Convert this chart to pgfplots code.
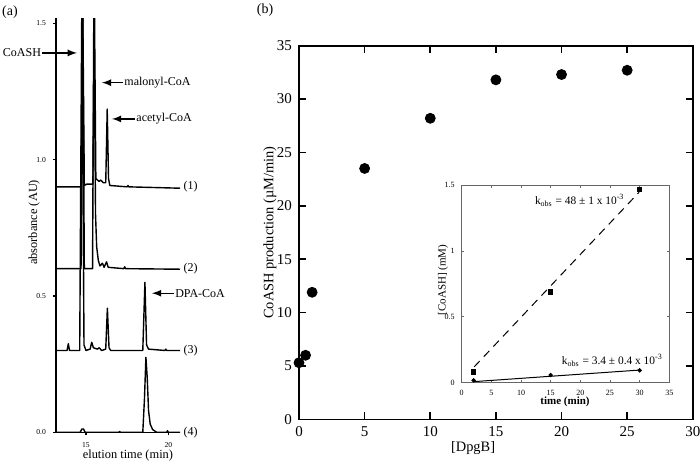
\documentclass[border=0pt]{standalone}
\usepackage{pgfplots}
\pgfplotsset{compat=1.18}
\usepackage{fontspec}
\setmainfont{Liberation Serif}
\newcommand\fs[1]{\fontsize{#1}{#1}\selectfont}
\pgfplotsset{trace/.style={black, line width=0.7pt, line join=round, mark=none}}
\begin{document}
\begin{tikzpicture}
\path[use as bounding box] (0,0) rectangle (350pt,233.5pt);
\node[font=\fs{7}] at (5pt,227.5pt) {(a)};
\node[font=\fs{7}] at (132.5pt,228.5pt) {(b)};

% (a) chromatograms, offset by 0.3 AU
\begin{axis}[
  at={(28pt,17.35pt)}, anchor=south west,
  scale only axis, width=62pt, height=207pt,
  xmin=13.18, xmax=20.71, ymin=0, ymax=1.518,
  axis lines*=left, axis line style={line width=0.7pt},
  tick align=outside, major tick length=1.5pt,
  every tick/.style={black, line width=0.6pt},
  xtick={15,20}, ytick={0,0.5,1,1.5},
  yticklabel style={/pgf/number format/fixed, /pgf/number format/fixed zerofill, /pgf/number format/precision=1},
  /pgf/number format/assume math mode=true,
  tick label style={font=\fs{3.8}},
  clip mode=individual,
  xlabel={elution time (min)}, ylabel={absorbance (AU)},
  label style={font=\fs{6.2}},
  xlabel style={at={(axis description cs:0.58,-0.057)}, anchor=center},
  ylabel style={at={(axis description cs:-0.177,0.507)}, anchor=center},
]
  % (1)
  \addplot[trace] coordinates {
    (13.18,0.90) (14.72,0.90) (14.80,1.60) (14.90,0.905) (15.05,0.91) (15.42,0.91)
    (15.51,1.60) (15.60,0.93) (15.70,0.925) (15.80,0.92) (15.90,0.925) (16.05,0.915)
    (16.20,0.915) (16.29,1.185) (16.37,0.93) (16.45,0.905) (17.50,0.90) (17.55,0.905)
    (17.60,0.90) (20.71,0.895)
  };
  % (2)
  \addplot[trace] coordinates {
    (13.18,0.60) (14.70,0.60) (14.80,1.60) (14.90,0.60) (15.40,0.60) (15.48,1.60)
    (15.58,0.80) (15.65,0.68) (15.75,0.63) (15.85,0.61) (16.00,0.62) (16.10,0.605)
    (16.25,0.625) (16.35,0.605) (17.30,0.60) (17.35,0.607) (17.40,0.60) (20.71,0.598)
  };
  % (3)
  \addplot[trace] coordinates {
    (13.18,0.30) (13.85,0.30) (13.93,0.325) (14.00,0.30) (14.62,0.30) (14.75,1.60)
    (14.88,0.32) (15.00,0.30) (15.25,0.305) (15.35,0.33) (15.45,0.31) (15.70,0.305)
    (15.80,0.31) (15.95,0.30) (16.20,0.305) (16.30,0.455) (16.40,0.31) (16.50,0.30)
    (18.45,0.30) (18.58,0.55) (18.68,0.32) (18.80,0.305) (19.80,0.30) (19.85,0.305)
    (19.90,0.30) (20.71,0.30)
  };
  % (4)
  \addplot[trace] coordinates {
    (13.18,0.0) (14.65,0.0) (14.75,0.012) (14.85,0.012) (14.95,0.0) (17.00,0.0)
    (17.05,0.003) (17.10,0.0) (18.45,0.0) (18.55,0.12) (18.64,0.275) (18.72,0.20)
    (18.80,0.08) (18.90,0.03) (19.05,0.01) (19.30,0.0) (19.90,0.0) (19.95,0.006)
    (20.00,0.0) (20.71,0.0)
  };
  \draw[-latex, line width=0.6pt] (axis cs:12.35,1.391) -- (axis cs:14.45,1.391);
  \node[anchor=east, font=\fs{6}, inner sep=0.5pt] at (axis cs:12.35,1.391) {CoASH};
  \draw[-latex, line width=0.6pt] (axis cs:17.25,1.282) -- (axis cs:15.97,1.282);
  \node[anchor=west, font=\fs{6}, inner sep=0.5pt] at (axis cs:17.25,1.282) {malonyl-CoA};
  \draw[-latex, line width=0.6pt] (axis cs:17.98,1.149) -- (axis cs:16.58,1.149);
  \node[anchor=west, font=\fs{6}, inner sep=0.5pt] at (axis cs:17.98,1.149) {acetyl-CoA};
  \draw[-latex, line width=0.6pt] (axis cs:20.34,0.51) -- (axis cs:19.01,0.51);
  \node[anchor=west, font=\fs{6}, inner sep=0.5pt] at (axis cs:20.34,0.51) {DPA-CoA};
  \node[anchor=west, font=\fs{6}, inner sep=0.5pt] at (axis cs:20.85,0.90) {(1)};
  \node[anchor=west, font=\fs{6}, inner sep=0.5pt] at (axis cs:20.85,0.60) {(2)};
  \node[anchor=west, font=\fs{6}, inner sep=0.5pt] at (axis cs:20.85,0.30) {(3)};
  \node[anchor=west, font=\fs{6}, inner sep=0.5pt] at (axis cs:20.85,0.0) {(4)};
\end{axis}

% (b) rate vs DpgB
\begin{axis}[
  at={(149.5pt,23.85pt)}, anchor=south west,
  scale only axis, width=196.9pt, height=186.8pt,
  xmin=0, xmax=30, ymin=0, ymax=35,
  xtick distance=5, ytick distance=5,
  tick align=inside, major tick length=3.5pt,
  axis line style={line width=0.8pt},
  every tick/.style={black, line width=0.8pt},
  /pgf/number format/assume math mode=true,
  tick label style={font=\fs{7.5}},
  xlabel={[DpgB]}, ylabel={CoASH production (µM/min)},
  label style={font=\fs{7.2}},
  xlabel style={at={(axis description cs:0.442,-0.0768)}, anchor=center},
  ylabel style={at={(axis description cs:-0.0736,0.5)}, anchor=center},
]
  \addplot[only marks, mark=*, mark size=2.5pt, black] coordinates {
    (0,5.3) (0.5,6.0) (1,11.9) (5,23.5) (10,28.2) (15,31.8) (20,32.3) (25,32.7)
  };
\end{axis}

% inset: CoASH vs time
\begin{axis}[
  at={(230.85pt,42.15pt)}, anchor=south west,
  scale only axis, width=103.8pt, height=98.85pt,
  xmin=0, xmax=35, ymin=0, ymax=1.5,
  xtick distance=5, ytick={0,0.5,1,1.5},
  tick align=inside, major tick length=1.3pt,
  axis line style={line width=0.4pt, gray!80!black},
  every tick/.style={gray!80!black, line width=0.4pt},
  axis background/.style={fill=white},
  /pgf/number format/assume math mode=true,
  tick label style={font=\fs{4}},
  xlabel={\bfseries time (min)}, ylabel={[CoASH] (mM)},
  label style={font=\fs{5.5}},
  xlabel style={at={(axis description cs:0.4976,-0.098)}, anchor=center},
  ylabel style={at={(axis description cs:-0.09,0.52)}, anchor=center},
]
  \addplot[black, line width=0.5pt, dash pattern=on 4pt off 3pt] coordinates {(2.1,0.12) (29.9,1.445)};
  \addplot[black, line width=0.5pt] coordinates {(2,0.008) (30,0.096)};
  \addplot[only marks, mark=square*, mark size=1.1pt, black] coordinates {(2,0.081) (15,0.688) (30,1.467)};
  \addplot[only marks, mark=*, mark size=0.9pt, black] coordinates {(2,0.018) (15,0.058) (30,0.094)};
  \node[font=\fs{5.7}] at (axis cs:19.9,1.38) {k\textsubscript{obs} = 48 ± 1 x 10\textsuperscript{-3}};
  \node[font=\fs{5.7}] at (axis cs:25.4,0.17) {k\textsubscript{obs} = 3.4 ± 0.4 x 10\textsuperscript{-3}};
\end{axis}
\end{tikzpicture}
\end{document}
